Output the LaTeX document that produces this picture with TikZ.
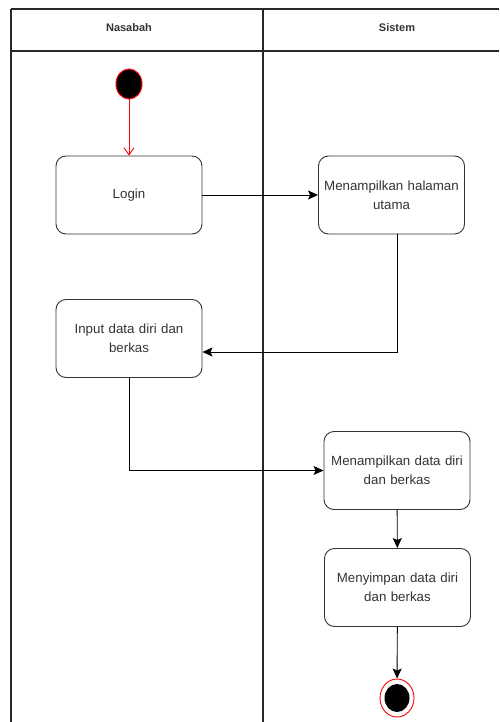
\documentclass[tikz,border=0pt]{standalone}
\usepackage{fontspec}
\setmainfont{Liberation Sans}
\usetikzlibrary{shapes.geometric, arrows.meta}
\definecolor{lanegray}{RGB}{40, 40, 40}
\definecolor{boxgray}{RGB}{51, 51, 51}
\definecolor{startred}{RGB}{255, 0, 0}

\begin{document}
\begin{tikzpicture}[x=1pt, y=-1pt,
    activity/.style={draw=boxgray, line width=0.9pt, rounded corners=10pt,
                     minimum width=146pt, minimum height=78pt, inner sep=1pt,
                     text width=144pt, align=center, text=boxgray,
                     font=\fontsize{13.3}{19}\selectfont},
    lanehead/.style={font=\fontsize{11}{13}\selectfont\bfseries, text=boxgray},
    flow/.style={-{Stealth[length=10pt, width=9pt, inset=2pt]}, line width=0.9pt}]
    \useasboundingbox (0,0) rectangle (499,722);

    %% swimlanes
    \draw[lanegray, line width=1.2pt] (11,9) -- (499,9);
    \draw[lanegray, line width=1.2pt] (11,51) -- (499,51);
    \draw[lanegray, line width=1.2pt] (11,9) -- (11,722);
    \draw[lanegray, line width=1.2pt] (263,9) -- (263,722);
    \node[lanehead] (nasabah) at (129,28) {Nasabah};
    \node[lanehead] (sistem) at (397,28) {Sistem};

    %% start
    \node[ellipse, draw=startred, fill=black, line width=1pt,
          minimum width=26pt, minimum height=30pt, inner sep=0pt] (start) at (129,84) {};

    %% activities
    \node[activity] (login) at (129,195) {Login};
    \node[activity, minimum width=145pt] (halaman) at (391.5,195) {Menampilkan halaman\\ utama};
    \node[activity] (input) at (129,338.5) {Input data diri dan\\ berkas};
    \node[activity] (tampil) at (397,470.5) {Menampilkan data diri\\ dan berkas};
    \node[activity] (simpan) at (397.5,587.5) {Menyimpan data diri\\ dan berkas};

    %% end
    \node[ellipse, draw=startred, fill=white, line width=0.9pt,
          minimum width=34pt, minimum height=38pt, inner sep=0pt] (stop) at (397,698) {};
    \node[ellipse, fill=black, minimum width=25pt, minimum height=28pt,
          inner sep=0pt] (stopdot) at (397,698) {};

    %% flows
    \draw[-{Straight Barb[length=7pt, width=10pt]}, startred, line width=0.9pt] (start) -- (login);
    \draw[flow] (login) -- (halaman);
    \draw[flow] ([xshift=5.5pt]halaman.south) |- ([yshift=-13.5pt]input.east);
    \draw[flow] (input.south) |- (tampil.west);
    \draw[flow] (tampil) -- (simpan);
    \draw[flow] (simpan) -- (stop);
\end{tikzpicture}
\end{document}
